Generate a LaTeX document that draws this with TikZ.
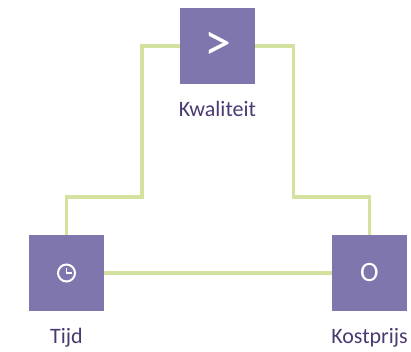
\documentclass[tikz,border=0pt]{standalone}
\usepackage{fontspec}
\setmainfont{Carlito}
\usetikzlibrary{positioning}
\definecolor{boxPurple}{RGB}{127,118,174}
\definecolor{linkGreen}{RGB}{212,226,160}
\definecolor{textPurple}{RGB}{75,58,114}

\begin{document}
\begin{tikzpicture}[x=1pt, y=1pt]
  \tikzset{link/.style={draw,linkGreen,line width=3.4pt}}
  \tikzset{square/.style={draw=none, fill=boxPurple, text=white, minimum size=75.5pt, outer sep=0pt, inner sep=0pt, font=\fontsize{28}{28}\selectfont}}
  \tikzset{caption/.style={text=textPurple, inner sep=0pt, font=\fontsize{22}{22}\selectfont}}
  \useasboundingbox (0,0) rectangle (411,351);

  \coordinate (bendL) at (142,154);
  \coordinate (bendR) at (293.5,154);

  \node[square, font=\fontsize{54}{54}\selectfont] at (217.5,305) (KW) {\raisebox{-2.5pt}{>}};
  \node[square] at (66.5,78) (TD) {};
  \node[square] at (369.5,78) (KP) {O};

  \node[caption, below=17pt of KW] (KWlabel) {Kwaliteit};
  \node[caption, below=17pt of TD] (TDlabel) {Tijd};
  \node[caption, below=17pt of KP] (KPlabel) {Kostprijs};

  \path[link] (KW.west) -| (bendL) -| (TD.north);
  \path[link] (KW.east) -| (bendR) -| (KP.north);
  \path[link] (TD.east) -- (KP.west);

  % clock face
  \draw[white, line width=2pt] (TD.center) circle (8.5pt);
  \draw[white, line width=1.2pt] (66.5,83) -- (TD.center) -- (71.5,78);
\end{tikzpicture}
\end{document}
